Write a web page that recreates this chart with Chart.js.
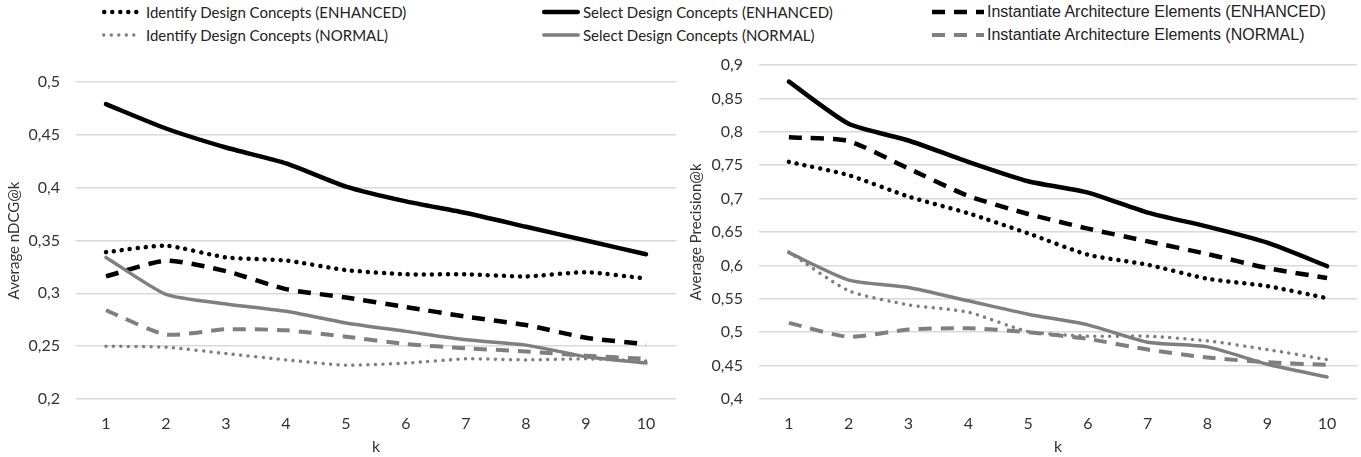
<!DOCTYPE html>
<html>
<head>
<meta charset="utf-8">
<script src="https://cdn.jsdelivr.net/npm/chart.js@4.4.1/dist/chart.umd.min.js"></script>
<style>
  body { margin: 0; background: #fff; width: 1361px; height: 457px; position: relative; overflow: hidden; }
  canvas { position: absolute; top: 0; }
  #ndcg { left: 0; }
  #prec { left: 680px; }
  .leg { position: absolute; height: 20px; display: flex; align-items: center; color: #222; white-space: nowrap; }
  .leg svg { margin-right: 3px; }
  .cal { font-family: Lato, "Open Sans", sans-serif; font-size: 15px; }
  .ari { font-family: "Liberation Sans", Arial, sans-serif; font-size: 16px; }
</style>
</head>
<body>
<div id="legend"></div>
<canvas id="ndcg" width="680" height="457"></canvas>
<canvas id="prec" width="681" height="457"></canvas>
<script>
const kLabels = ['1', '2', '3', '4', '5', '6', '7', '8', '9', '10'];

// Average nDCG@k
const ndcgIdentifyEnh = [0.339, 0.345, 0.334, 0.331, 0.322, 0.318, 0.318, 0.316, 0.320, 0.314];
const ndcgSelectEnh = [0.479, 0.456, 0.438, 0.423, 0.401, 0.387, 0.376, 0.363, 0.350, 0.337];
const ndcgInstEnh = [0.316, 0.331, 0.321, 0.304, 0.296, 0.287, 0.278, 0.270, 0.258, 0.252];
const ndcgIdentifyNorm = [0.250, 0.249, 0.243, 0.237, 0.232, 0.234, 0.238, 0.237, 0.238, 0.236];
const ndcgSelectNorm = [0.334, 0.299, 0.290, 0.283, 0.272, 0.264, 0.256, 0.251, 0.240, 0.234];
const ndcgInstNorm = [0.284, 0.261, 0.266, 0.265, 0.259, 0.252, 0.248, 0.245, 0.241, 0.238];

// Average Precision@k
const precIdentifyEnh = [0.755, 0.735, 0.703, 0.678, 0.648, 0.616, 0.601, 0.580, 0.569, 0.551];
const precSelectEnh = [0.875, 0.812, 0.787, 0.755, 0.726, 0.709, 0.679, 0.658, 0.634, 0.599];
const precInstEnh = [0.792, 0.786, 0.745, 0.704, 0.677, 0.655, 0.636, 0.617, 0.596, 0.581];
const precIdentifyNorm = [0.620, 0.562, 0.541, 0.530, 0.501, 0.494, 0.494, 0.487, 0.474, 0.459];
const precSelectNorm = [0.619, 0.578, 0.567, 0.547, 0.527, 0.511, 0.485, 0.478, 0.452, 0.433];
const precInstNorm = [0.514, 0.493, 0.504, 0.506, 0.500, 0.490, 0.474, 0.462, 0.455, 0.451];

const BLACK = '#000000';
const GRAY = '#7f7f7f';

const styles = {
    identifyEnh: { label: 'Identify Design Concepts (ENHANCED)', color: BLACK, width: 4.5, dash: [0.01, 8], cap: 'round' },
    identifyNorm: { label: 'Identify Design Concepts (NORMAL)', color: GRAY, width: 3.5, dash: [0.01, 7.5], cap: 'round' },
    selectEnh: { label: 'Select Design Concepts (ENHANCED)', color: BLACK, width: 4.5, dash: [], cap: 'round' },
    selectNorm: { label: 'Select Design Concepts (NORMAL)', color: GRAY, width: 3.5, dash: [], cap: 'round' },
    instEnh: { label: 'Instantiate  Architecture Elements (ENHANCED)', color: BLACK, width: 4.5, dash: [13, 9], cap: 'butt' },
    instNorm: { label: 'Instantiate  Architecture Elements (NORMAL)', color: GRAY, width: 4, dash: [13, 9], cap: 'butt' }
};

const makeDataset = (key, data) => {
    const s = styles[key];
    return {
        label: s.label,
        data: data,
        borderColor: s.color,
        backgroundColor: s.color,
        borderWidth: s.width,
        borderDash: s.dash,
        borderCapStyle: s.cap,
        borderJoinStyle: 'round',
        pointRadius: 0,
        tension: 0.2,
        fill: false
    };
}

const fmt = (v) => String(Math.round(v * 100) / 100).replace('.', ',');

const makeOptions = (title, min, max, yWidth, titlePad, top) => ({
    responsive: false,
    animation: false,
    layout: { padding: { top: top, right: 4, left: 0, bottom: 0 } },
    plugins: { legend: { display: false }, tooltip: { enabled: false } },
    scales: {
        x: {
            offset: true,
            grid: { display: false },
            border: { display: false },
            ticks: { padding: 7, color: '#333', font: { family: 'Lato', size: 16 } },
            title: { display: true, text: 'k', color: '#333', padding: { top: 0, bottom: 1 }, font: { family: 'Lato', size: 16 } },
            afterFit: (s) => { s.height = 58; }
        },
        y: {
            min: min,
            max: max,
            grid: { color: '#d9d9d9', lineWidth: 1.5, drawTicks: false },
            border: { display: false },
            ticks: { stepSize: 0.05, padding: 16, color: '#333', font: { family: 'Lato', size: 16 }, callback: fmt },
            title: { display: true, text: title, color: '#333', padding: { top: titlePad, bottom: 0 }, font: { family: 'Lato', size: 15 } },
            afterFit: (s) => { s.width = yWidth; }
        }
    }
});

new Chart(document.getElementById('ndcg'), {
    type: 'line',
    data: {
        labels: kLabels,
        datasets: [
            makeDataset('identifyNorm', ndcgIdentifyNorm),
            makeDataset('selectNorm', ndcgSelectNorm),
            makeDataset('instNorm', ndcgInstNorm),
            makeDataset('identifyEnh', ndcgIdentifyEnh),
            makeDataset('selectEnh', ndcgSelectEnh),
            makeDataset('instEnh', ndcgInstEnh)
        ]
    },
    options: makeOptions('Average nDCG@k', 0.2, 0.5, 76, 5, 82)
});

new Chart(document.getElementById('prec'), {
    type: 'line',
    data: {
        labels: kLabels,
        datasets: [
            makeDataset('identifyNorm', precIdentifyNorm),
            makeDataset('selectNorm', precSelectNorm),
            makeDataset('instNorm', precInstNorm),
            makeDataset('identifyEnh', precIdentifyEnh),
            makeDataset('selectEnh', precSelectEnh),
            makeDataset('instEnh', precInstEnh)
        ]
    },
    options: makeOptions('Average Precision@k', 0.4, 0.9, 79, 7, 65)
});

// shared legend across both charts
const legendItems = [
    { key: 'identifyEnh', x: 102, y: 2, w: 41, cls: 'cal' },
    { key: 'identifyNorm', x: 102, y: 25, w: 41, cls: 'cal' },
    { key: 'selectEnh', x: 542, y: 2, w: 38, cls: 'cal' },
    { key: 'selectNorm', x: 542, y: 25, w: 38, cls: 'cal' },
    { key: 'instEnh', x: 932, y: 2, w: 52, cls: 'ari' },
    { key: 'instNorm', x: 932, y: 25, w: 52, cls: 'ari' }
];
const legend = document.getElementById('legend');
for (const item of legendItems) {
    const s = styles[item.key];
    const dash = s.dash.length ? `stroke-dasharray="${s.dash.join(' ')}"` : '';
    const x1 = s.cap === 'round' ? s.width / 2 : 0;
    legend.insertAdjacentHTML('beforeend',
        `<div class="leg ${item.cls}" style="left:${item.x}px;top:${item.y}px">` +
        `<svg width="${item.w}" height="10"><line x1="${x1}" y1="5" x2="${item.w - x1}" y2="5" stroke="${s.color}" stroke-width="${s.width}" stroke-linecap="${s.cap}" ${dash}/></svg>` +
        `<span>${s.label}</span></div>`);
}
</script>
</body>
</html>
